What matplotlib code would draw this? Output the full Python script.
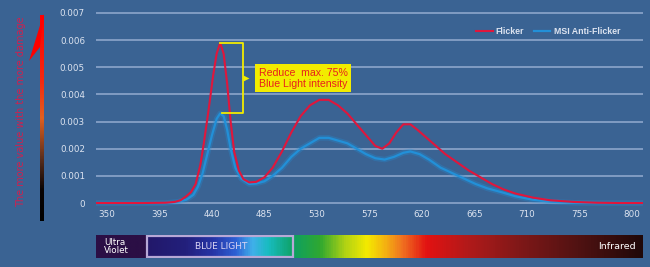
import numpy as np
import matplotlib
matplotlib.use('Agg')
import matplotlib.pyplot as plt
from matplotlib.colors import LinearSegmentedColormap
from matplotlib.patches import Rectangle, Polygon

# wavelength (nm) / intensity
red_wl = [341, 360, 380, 400, 408, 413, 418, 422, 426, 430, 433, 437, 441, 444, 447,
          450, 453, 456, 459, 463, 467, 472, 478, 485, 492, 500, 508, 516, 524, 532,
          540, 548, 556, 564, 572, 580, 586, 592, 598, 604, 610, 616, 624, 632, 640,
          650, 660, 670, 680, 690, 700, 715, 730, 750, 770, 790, 809]
red_val = [0, 0, 0, 0.00001, 0.00004, 0.0001, 0.00025, 0.0004, 0.0007, 0.0014, 0.0022,
           0.0034, 0.0047, 0.0055, 0.0059, 0.0055, 0.0044, 0.0030, 0.0019, 0.0012,
           0.00088, 0.00076, 0.00078, 0.00095, 0.0013, 0.0019, 0.0026, 0.0032, 0.0036,
           0.0038, 0.0038, 0.0036, 0.0033, 0.0029, 0.0025, 0.0021, 0.0020, 0.0022,
           0.0026, 0.0029, 0.0029, 0.0027, 0.0024, 0.0021, 0.0018, 0.0015, 0.0012,
           0.00095, 0.0007, 0.0005, 0.00035, 0.0002, 0.0001, 0.00004, 0.00001, 0, 0]

blue_wl = [341, 360, 380, 400, 410, 418, 424, 428, 432, 436, 440, 444, 447, 450, 453,
           456, 460, 465, 472, 478, 485, 492, 500, 508, 516, 524, 532, 540, 548, 556,
           564, 572, 580, 588, 596, 604, 610, 618, 626, 636, 646, 656, 666, 676, 688,
           700, 715, 730, 750, 770, 790, 809]
blue_val = [0, 0, 0, 0, 0.00004, 0.00012, 0.0003, 0.0006, 0.0011, 0.0018, 0.0025,
            0.0031, 0.0033, 0.0032, 0.0027, 0.0020, 0.0013, 0.0009, 0.0007, 0.00072,
            0.0008, 0.0010, 0.0013, 0.0017, 0.0020, 0.0022, 0.0024, 0.0024, 0.0023,
            0.0022, 0.0020, 0.0018, 0.00165, 0.0016, 0.0017, 0.00185, 0.0019, 0.0018,
            0.0016, 0.0013, 0.0011, 0.0009, 0.0007, 0.00054, 0.0004, 0.00025, 0.00012,
            0.00005, 0.00001, 0, 0, 0]

x_ticks = [350, 395, 440, 485, 530, 575, 620, 665, 710, 755, 800]
y_ticks = [0, 0.001, 0.002, 0.003, 0.004, 0.005, 0.006, 0.007]
y_labels = ['0', '0.001', '0.002', '0.003', '0.004', '0.005', '0.006', '0.007']

BG = '#3a6393'
GRID = '#93acd0'
TXT = '#dde4f0'
RED = '#e0163c'
BLUE = '#2290d8'
YEL = '#f2ec00'
NARROW = ['Liberation Sans Narrow', 'Liberation Sans']

W, H = 650, 267
fig = plt.figure(figsize=(6.5, 2.67), dpi=100, facecolor=BG)


def px_axes(x0, y0, x1, y1):
    # pixel box (top-left origin) -> figure fraction
    return [x0 / W, 1 - y1 / H, (x1 - x0) / W, (y1 - y0) / H]


ax = fig.add_axes(px_axes(96, 10, 643, 206))
ax.set_facecolor(BG)
for s in ax.spines.values():
    s.set_visible(False)
ax.set_xlim(340.6, 809.4)
ax.set_ylim(-0.00011, 0.00711)
ax.set_yticks(y_ticks)
ax.set_yticklabels(y_labels)
ax.set_xticks(x_ticks)
ax.tick_params(length=0, colors=TXT, labelsize=6.3)
ax.tick_params(axis='y', pad=8)
ax.tick_params(axis='x', pad=3)
ax.grid(axis='y', color=GRID, lw=1.1)
ax.grid(axis='x', visible=False)
ax.set_axisbelow(True)

# curves
ax.plot(blue_wl, blue_val, color=BLUE, lw=4, alpha=0.3, solid_capstyle='round')
ax.plot(blue_wl, blue_val, color=BLUE, lw=1.6, label='MSI Anti-Flicker')
ax.plot(red_wl, red_val, color=RED, lw=1.5, label='Flicker')

# bracket showing the reduction
top = max(red_val)
bot = max(blue_val)
pk = red_wl[int(np.argmax(red_val))]
ax.plot([pk, 466.5, 466.5, pk + 1.5], [top, top, bot, bot], color=YEL, lw=1.3)
ax.plot([469.5], [(top + bot) / 2], marker='>', color=YEL, ms=5, mec='none')
ax.text(480, (top + bot) / 2, 'Reduce  max. 75%\nBlue Light intensity',
        color='#e8201c', fontsize=7.6, family=NARROW,
        va='center', ha='left', linespacing=1.1,
        bbox=dict(boxstyle='square,pad=0.35', fc=YEL, ec='none'))

h, l = ax.get_legend_handles_labels()
leg = ax.legend(h[::-1], l[::-1], loc='center right', bbox_to_anchor=(0.958, 0.888),
                ncol=2, frameon=False, handlelength=1.9, handletextpad=0.35,
                columnspacing=1.1, borderpad=0, borderaxespad=0,
                prop=dict(family=NARROW, weight='bold', size=6.3))
for t in leg.get_texts():
    t.set_color(TXT)

# spectrum bar
stops = [(96, '#2b0f45'), (146, '#2b0f45'), (146.5, '#22186a'), (185, '#23207c'),
         (212, '#2634a6'), (235, '#2e60d4'), (252, '#40b0ea'), (268, '#18bcc0'),
         (294, '#0ea060'), (320, '#30a830'), (345, '#b0d214'), (367, '#f4ea00'),
         (386, '#f4b012'), (403, '#f07020'), (427, '#e21212'), (470, '#b01a1a'),
         (520, '#801818'), (580, '#501212'), (643, '#200808')]
cm = LinearSegmentedColormap.from_list(
    'spec', [((p - 96) / (643 - 96), c) for p, c in stops])
bar = fig.add_axes(px_axes(96, 235, 643, 258))
bar.imshow(np.linspace(0, 1, 600)[None, :], aspect='auto', cmap=cm,
           extent=(96, 643, 258, 235))
bar.set_xlim(96, 643)
bar.set_ylim(258, 235)
bar.axis('off')
bar.add_patch(Rectangle((147, 236), 146, 21, fill=False, ec='#b7a8d6', lw=1.6))
bar.text(104, 246.5, 'Ultra\nViolet', color='white', fontsize=6.3, va='center',
         ha='left', linespacing=0.95)
bar.text(221, 246.5, 'BLUE LIGHT', color='#dcd6f4', fontsize=6.5, va='center', ha='center')
bar.text(636, 246.5, 'Infrared', color='white', fontsize=6.8, va='center', ha='right')

# damage arrow on the left
ov = fig.add_axes([0, 0, 1, 1])
ov.axis('off')
acm = LinearSegmentedColormap.from_list(
    'arr', [(0, '#000000'), (0.15, '#0a0404'), (0.3, '#5a2e1c'), (0.5, '#e06020'),
            (0.68, '#f42a10'), (1, '#ff0000')])
ov.imshow(np.linspace(0, 1, 200)[:, None], aspect='auto', cmap=acm, origin='lower',
          extent=(39.5, 43.5, 221, 15))
ov.add_patch(Polygon([(43.5, 14), (29, 61), (40, 47)], closed=True, fc='#ff0000', ec='none'))
ov.text(21, 112, 'The more value with the more damage', rotation=90, color='#d0204e',
        fontsize=7, va='center', ha='center')
ov.set_xlim(0, W)
ov.set_ylim(H, 0)

fig.savefig('out.png', dpi=100, facecolor=BG)
